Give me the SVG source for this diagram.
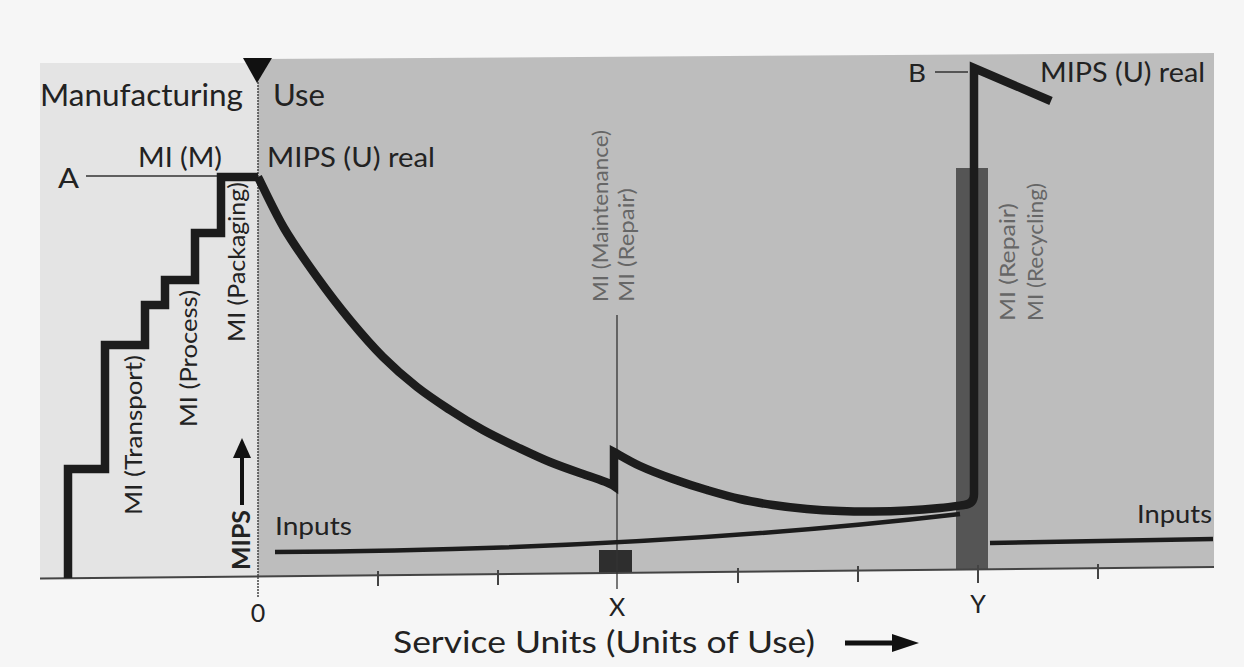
<svg xmlns="http://www.w3.org/2000/svg" width="1244" height="667" viewBox="0 0 1244 667">
<style>
.t{font-family:Lato,"Liberation Sans",sans-serif;fill:#222}
.g{font-family:Lato,"Liberation Sans",sans-serif;fill:#666}
.thick{fill:none;stroke:#1c1c1c;stroke-width:8.5;stroke-linejoin:miter;stroke-linecap:butt}
.thin{fill:none;stroke:#333;stroke-width:1.5}
.tick{stroke:#444;stroke-width:2}
</style>
<rect x="0" y="0" width="1244" height="667" fill="#f6f6f6"/>
<g id="panels">
<polygon id="manufacturing-panel" points="40,63 258,63 258,576.4 40,578.5" fill="#e4e4e4"/>
<polygon id="use-panel" points="258,59 1214,53 1214,567 258,576.4" fill="#bdbdbd"/>
</g>
<g id="bars">
<rect id="bar-x" x="599" y="550" width="33" height="23" fill="#2e2e2e"/>
<rect id="bar-y" x="956" y="168" width="32" height="401" fill="#555"/>
</g>
<g id="axes">
<line x1="40" y1="578.5" x2="1214" y2="567" stroke="#444" stroke-width="2"/>
<line x1="258" y1="82" x2="258" y2="598" stroke="#444" stroke-width="1.5" stroke-dasharray="2 1"/>
<polygon points="243,58 272,58 257,83" fill="#111"/>
<line class="tick" x1="378" y1="571" x2="378" y2="586"/>
<line class="tick" x1="498" y1="570" x2="498" y2="585"/>
<line class="tick" x1="738" y1="568" x2="738" y2="583"/>
<line class="tick" x1="858" y1="566" x2="858" y2="582"/>
<line class="tick" x1="978" y1="565" x2="978" y2="583"/>
<line class="tick" x1="1098" y1="564" x2="1098" y2="579"/>
<line x1="617" y1="315" x2="617" y2="589" stroke="#333" stroke-width="1.3"/>
<line x1="242" y1="505" x2="242" y2="455" stroke="#111" stroke-width="4"/>
<polygon points="233,458 251,458 242,438" fill="#111"/>
<line x1="845" y1="643" x2="895" y2="643" stroke="#111" stroke-width="5"/>
<polygon points="892,634 919,643 892,652" fill="#111"/>
</g>
<g id="connectors">
<line class="thin" x1="86" y1="176" x2="218" y2="176"/>
<line class="thin" x1="935" y1="72" x2="968" y2="72"/>
<path class="thick" d="M68,578 V469 H105 V345 H145 V305 H165 V280 H195 V233 H221 V177 H258"/>
<path class="thick" d="M258,177 C262.3,185.5 274.2,211.3 284,228 C293.8,244.7 306,261.7 317,277 C328,292.3 339,306.7 350,320 C361,333.3 371.8,345.8 383,357 C394.2,368.2 405.8,378.2 417,387 C428.2,395.8 439,402.8 450,410 C461,417.2 471.8,423.8 483,430 C494.2,436.2 505.8,441.7 517,447 C528.2,452.3 539,457.5 550,462 C561,466.5 572.3,470.3 583,474 C593.7,477.7 608.8,482.3 614,486 L614,452 C618.3,454.3 630.2,461.5 640,466 C649.8,470.5 661.8,475 673,479 C684.2,483 695.8,486.7 707,490 C718.2,493.3 729,496.5 740,499 C751,501.5 761.8,503.3 773,505 C784.2,506.7 795.8,508 807,509 C818.2,510 829,510.6 840,511 C851,511.4 861.8,511.6 873,511.5 C884.2,511.4 895.8,511.1 907,510.5 C918.2,509.9 930.5,508.9 940,508 C949.5,507.1 960,505.5 964,505 Q974,504 974,494 V68 L1051,101"/>
<path d="M275,552 Q650,550 960,514" fill="none" stroke="#1c1c1c" stroke-width="4.5"/>
<line x1="990" y1="543" x2="1213" y2="539" stroke="#1c1c1c" stroke-width="4.5"/>
</g>
<g id="labels">
<text class="t" x="40" y="106" font-size="30" textLength="203" lengthAdjust="spacingAndGlyphs">Manufacturing</text>
<text class="t" x="273" y="106" font-size="30" textLength="52" lengthAdjust="spacingAndGlyphs">Use</text>
<text class="t" x="138" y="167" font-size="26" textLength="84" lengthAdjust="spacingAndGlyphs">MI (M)</text>
<text class="t" x="267" y="167" font-size="26" textLength="168" lengthAdjust="spacingAndGlyphs">MIPS (U) real</text>
<text class="t" x="58" y="188" font-size="26" textLength="21" lengthAdjust="spacingAndGlyphs">A</text>
<text class="t" x="908" y="82" font-size="25" textLength="18" lengthAdjust="spacingAndGlyphs">B</text>
<text class="t" x="1040" y="82" font-size="26" textLength="165" lengthAdjust="spacingAndGlyphs">MIPS (U) real</text>
<text class="t" x="275" y="535" font-size="25" textLength="77" lengthAdjust="spacingAndGlyphs">Inputs</text>
<text class="t" x="1137" y="523" font-size="25" textLength="75" lengthAdjust="spacingAndGlyphs">Inputs</text>
<text class="t" x="258" y="622" font-size="25" text-anchor="middle">0</text>
<text class="t" x="617" y="616" font-size="25" text-anchor="middle">X</text>
<text class="t" x="978" y="613" font-size="25" text-anchor="middle">Y</text>
<text class="t" x="393" y="653" font-size="30" textLength="422" lengthAdjust="spacingAndGlyphs">Service Units (Units of Use)</text>
<text class="t" transform="translate(142,515) rotate(-90)" font-size="24" textLength="160" lengthAdjust="spacingAndGlyphs">MI (Transport)</text>
<text class="t" transform="translate(197,427) rotate(-90)" font-size="24" textLength="137" lengthAdjust="spacingAndGlyphs">MI (Process)</text>
<text class="t" transform="translate(245,342) rotate(-90)" font-size="24" textLength="160" lengthAdjust="spacingAndGlyphs">MI (Packaging)</text>
<text class="t" transform="translate(250,570) rotate(-90)" font-size="25" font-weight="bold" textLength="60" lengthAdjust="spacingAndGlyphs">MIPS</text>
<text class="g" transform="translate(608,302) rotate(-90)" font-size="22" textLength="172" lengthAdjust="spacingAndGlyphs">MI (Maintenance)</text>
<text class="g" transform="translate(634,302) rotate(-90)" font-size="22" textLength="114" lengthAdjust="spacingAndGlyphs">MI (Repair)</text>
<text class="g" transform="translate(1015,321) rotate(-90)" font-size="22" textLength="118" lengthAdjust="spacingAndGlyphs">MI (Repair)</text>
<text class="g" transform="translate(1043,321) rotate(-90)" font-size="22" textLength="138" lengthAdjust="spacingAndGlyphs">MI (Recycling)</text>
</g>
</svg>
